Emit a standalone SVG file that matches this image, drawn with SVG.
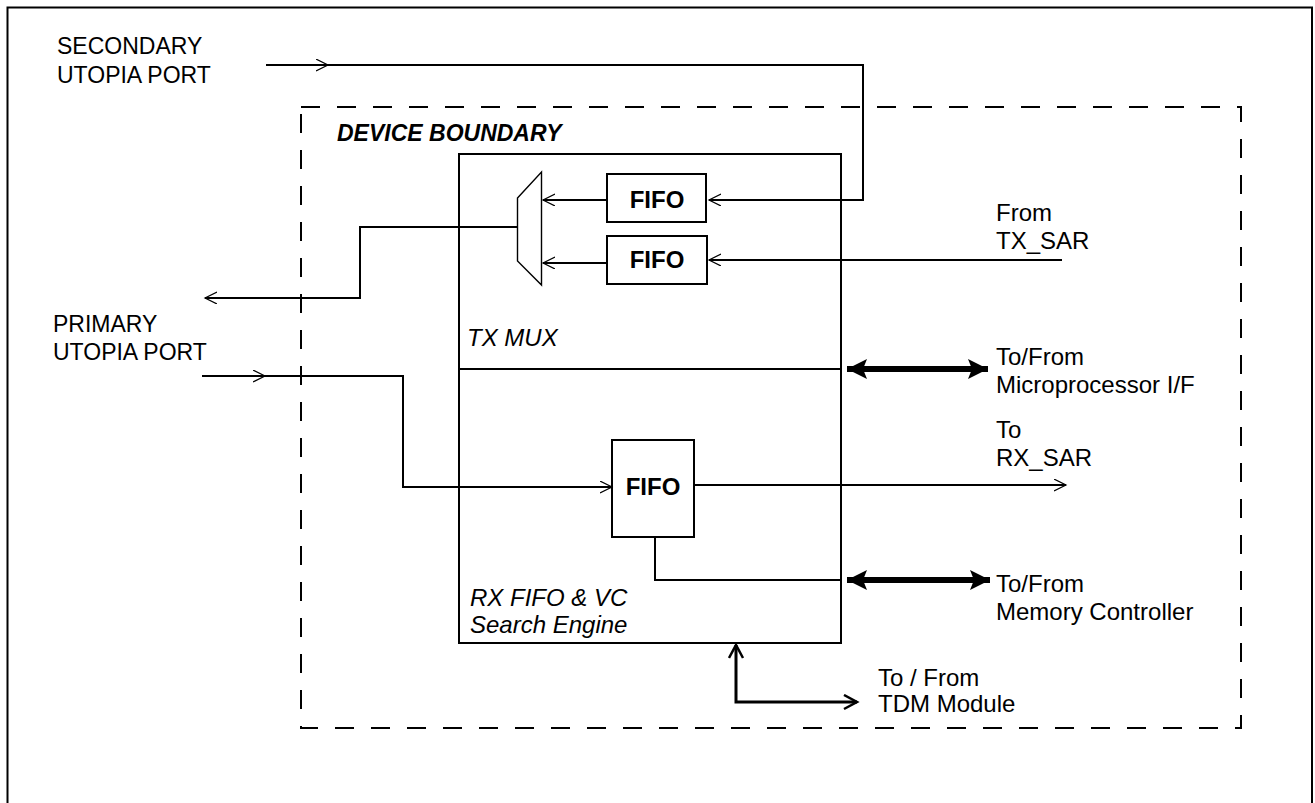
<svg xmlns="http://www.w3.org/2000/svg" width="1315" height="803" viewBox="0 0 1315 803">
<style>
text{font-family:"Liberation Sans",Arial,sans-serif;fill:#000}
.lbl{font-size:23px}
.rl{font-size:24px}
.it{font-style:italic;font-size:24px}
.fifo{font-weight:bold;font-size:24px;text-anchor:middle}
.box{fill:#fff;stroke:#000;stroke-width:2}
.wire{fill:none;stroke:#000;stroke-width:2}
</style>
<defs>
<marker id="open" markerUnits="userSpaceOnUse" markerWidth="14" markerHeight="14" refX="12" refY="6" orient="auto">
<path d="M0,0 L12,6 L0,12" fill="none" stroke="#000" stroke-width="1.2"/>
</marker>
<marker id="openB" markerUnits="userSpaceOnUse" markerWidth="18" markerHeight="18" refX="14" refY="8" orient="auto-start-reverse">
<path d="M1,1 L14,8 L1,15" fill="none" stroke="#000" stroke-width="2.5"/>
</marker>
<marker id="fat" markerUnits="userSpaceOnUse" markerWidth="22" markerHeight="22" refX="20" refY="10" orient="auto-start-reverse">
<path d="M0,0 L20,10 L0,20 L4,10 Z" fill="#000"/>
</marker>
</defs>

<g id="frame">
<path d="M7.5,803 L7.5,7.5 L1312,7.5 L1312,803" fill="none" stroke="#000" stroke-width="2"/>
</g>

<g id="device-boundary">
<rect x="301" y="107" width="940" height="621" fill="none" stroke="#000" stroke-width="2" stroke-dasharray="19 17"/>
<text x="337" y="141" style="font-weight:bold;font-style:italic;font-size:23px">DEVICE BOUNDARY</text>
</g>

<g id="main-block">
<rect class="box" x="459" y="154" width="382" height="489"/>
<line x1="459" y1="369" x2="841" y2="369" stroke="#000" stroke-width="2"/>
<text class="it" x="467" y="346">TX MUX</text>
<text class="it" x="470" y="606">RX FIFO &amp; VC</text>
<text class="it" x="470" y="633">Search Engine</text>
</g>

<g id="mux">
<path d="M517.5,198 L541.5,172 L541.5,285 L517.5,261 Z" fill="#fff" stroke="#000" stroke-width="1.4"/>
</g>

<g id="fifo1">
<rect class="box" x="607" y="174" width="99" height="48"/>
<text class="fifo" x="657" y="208">FIFO</text>
</g>
<g id="fifo2">
<rect class="box" x="607" y="236" width="100" height="48"/>
<text class="fifo" x="657" y="268">FIFO</text>
</g>
<g id="fifo3">
<rect class="box" x="612" y="440" width="82" height="97"/>
<text class="fifo" x="653" y="495">FIFO</text>
</g>

<g id="labels">
<text class="lbl" x="57" y="54">SECONDARY</text>
<text class="lbl" x="57" y="83">UTOPIA PORT</text>
<text class="lbl" x="53" y="332">PRIMARY</text>
<text class="lbl" x="53" y="360">UTOPIA PORT</text>
<text class="rl" x="996" y="221">From</text>
<text class="rl" x="996" y="249">TX_SAR</text>
<text class="rl" x="996" y="365">To/From</text>
<text class="rl" x="996" y="393">Microprocessor I/F</text>
<text class="rl" x="996" y="438">To</text>
<text class="rl" x="996" y="466">RX_SAR</text>
<text class="rl" x="996" y="592">To/From</text>
<text class="rl" x="996" y="620">Memory Controller</text>
<text class="rl" x="878" y="686">To / From</text>
<text class="rl" x="878" y="712">TDM Module</text>
</g>

<g id="connectors">
<path class="wire" d="M266,65 L328,65" marker-end="url(#open)"/>
<path class="wire" d="M326,65 L863,65 L863,200 L709,200" marker-end="url(#open)"/>
<path class="wire" d="M607,200 L543,200" marker-end="url(#open)"/>
<path class="wire" d="M1062,260 L709,260" marker-end="url(#open)"/>
<path class="wire" d="M607,263 L543,263" marker-end="url(#open)"/>
<path class="wire" d="M517,227 L360,227 L360,298 L205,298" marker-end="url(#open)"/>
<path class="wire" d="M202,376 L265,376" marker-end="url(#open)"/>
<path class="wire" d="M263,376 L403,376 L403,487 L612,487" marker-end="url(#open)"/>
<path class="wire" d="M694,485 L1066,485" marker-end="url(#open)"/>
<path class="wire" d="M655,537 L655,580 L841,580"/>
<path d="M847,369 L988,369" fill="none" stroke="#000" stroke-width="6" marker-start="url(#fat)" marker-end="url(#fat)"/>
<path d="M847,580 L990,580" fill="none" stroke="#000" stroke-width="6" marker-start="url(#fat)" marker-end="url(#fat)"/>
<path d="M736,645 L736,702 L857,702" fill="none" stroke="#000" stroke-width="3" marker-start="url(#openB)" marker-end="url(#openB)"/>
</g>
</svg>
